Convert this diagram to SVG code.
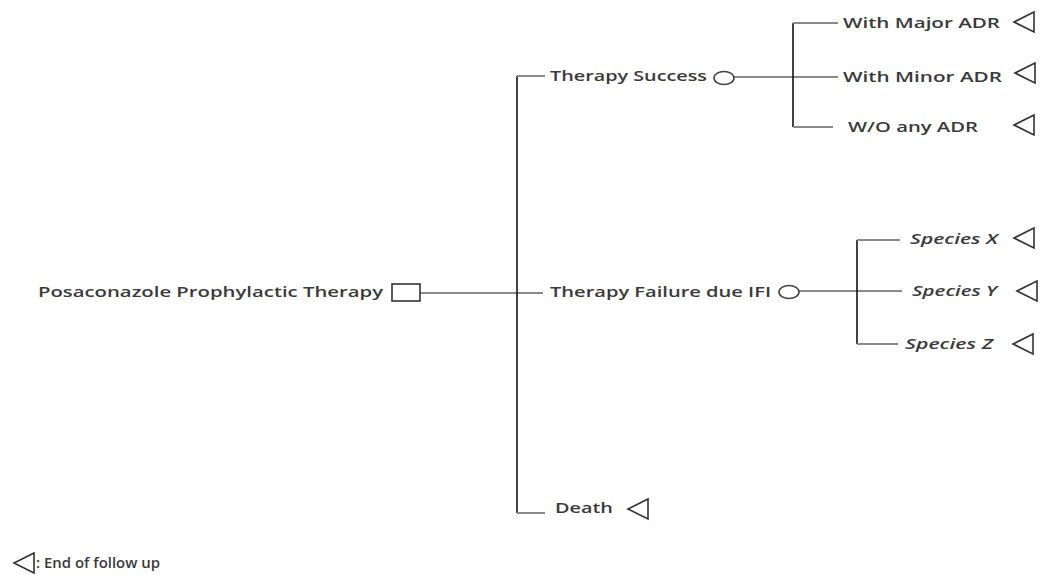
<svg xmlns="http://www.w3.org/2000/svg" width="1041" height="575" viewBox="0 0 1041 575">
  <style>
    .lbl { font-family: "Open Sans", "Liberation Sans", sans-serif; font-size: 15px; font-weight: 600; fill: #3a3a3a; }
    .it { font-style: italic; }
    .h { stroke: #8a8a8a; stroke-width: 2; fill: none; }
    .v { stroke: #111; stroke-width: 1.6; fill: none; }
    .end { fill: #fff; stroke: #333; stroke-width: 1.6; stroke-linejoin: miter; }
    .chance { fill: #fff; stroke: #444; stroke-width: 1.6; }
    .decision { fill: #fff; stroke: #333; stroke-width: 1.6; }
  </style>
  <defs>
    <!-- terminal node: left-pointing triangle, centred at origin -->
    <polygon id="tri" points="10,-10 -10,0 10,10"/>
  </defs>
  <rect width="1041" height="575" fill="#fff"/>

  <g id="connectors">
    <!-- root branch -->
    <line class="h" x1="420" y1="293" x2="543" y2="293"/>
    <line class="v" x1="517" y1="76" x2="517" y2="513"/>
    <line class="h" x1="517" y1="76" x2="545" y2="76"/>
    <line class="h" x1="517" y1="513" x2="545" y2="513"/>
    <!-- therapy success branch -->
    <line class="h" x1="734" y1="77" x2="838" y2="77"/>
    <line class="v" x1="793" y1="23" x2="793" y2="127"/>
    <line class="h" x1="793" y1="23" x2="838" y2="23"/>
    <line class="h" x1="793" y1="127" x2="833" y2="127"/>
    <!-- therapy failure branch -->
    <line class="h" x1="799" y1="291" x2="902" y2="291"/>
    <line class="v" x1="857" y1="240" x2="857" y2="344"/>
    <line class="h" x1="857" y1="240" x2="900" y2="240"/>
    <line class="h" x1="857" y1="344" x2="898" y2="344"/>
  </g>

  <g id="root">
    <text class="lbl" x="38" y="297" textLength="345" lengthAdjust="spacingAndGlyphs">Posaconazole Prophylactic Therapy</text>
    <rect class="decision" x="392" y="284" width="28" height="17"/>
  </g>

  <g id="success">
    <text class="lbl" x="550" y="81" textLength="157" lengthAdjust="spacingAndGlyphs">Therapy Success</text>
    <ellipse class="chance" cx="724" cy="78" rx="10" ry="6.5"/>
  </g>

  <g id="failure">
    <text class="lbl" x="550" y="297" textLength="221" lengthAdjust="spacingAndGlyphs">Therapy Failure due IFI</text>
    <ellipse class="chance" cx="789" cy="292" rx="10" ry="6.5"/>
  </g>

  <g id="death">
    <text class="lbl" x="555" y="513" textLength="58" lengthAdjust="spacingAndGlyphs">Death</text>
    <use href="#tri" class="end" x="638" y="509"/>
  </g>

  <g id="major-adr">
    <text class="lbl" x="843" y="28" textLength="157" lengthAdjust="spacingAndGlyphs">With Major ADR</text>
    <use href="#tri" class="end" x="1024" y="22"/>
  </g>

  <g id="minor-adr">
    <text class="lbl" x="843" y="82" textLength="159" lengthAdjust="spacingAndGlyphs">With Minor ADR</text>
    <use href="#tri" class="end" x="1025" y="73"/>
  </g>

  <g id="no-adr">
    <text class="lbl" x="848" y="132" textLength="130" lengthAdjust="spacingAndGlyphs">W/O any ADR</text>
    <use href="#tri" class="end" x="1024" y="125"/>
  </g>

  <g id="species-x">
    <text class="lbl it" x="910" y="244" textLength="88" lengthAdjust="spacingAndGlyphs">Species X</text>
    <use href="#tri" class="end" x="1024" y="238"/>
  </g>

  <g id="species-y">
    <text class="lbl it" x="912" y="296" textLength="85" lengthAdjust="spacingAndGlyphs">Species Y</text>
    <use href="#tri" class="end" x="1027" y="291"/>
  </g>

  <g id="species-z">
    <text class="lbl it" x="905" y="349" textLength="88" lengthAdjust="spacingAndGlyphs">Species Z</text>
    <use href="#tri" class="end" x="1023" y="344"/>
  </g>

  <g id="legend">
    <use href="#tri" class="end" x="24" y="563"/>
    <text class="lbl" x="36" y="568" textLength="124" lengthAdjust="spacingAndGlyphs">: End of follow up</text>
  </g>
</svg>
